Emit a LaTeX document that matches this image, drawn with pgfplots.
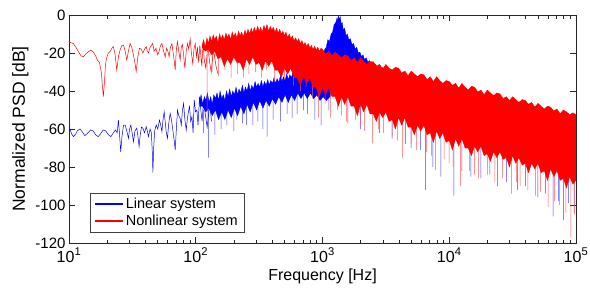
\documentclass[border=0pt]{standalone}
\usepackage{pgfplots}
\pgfplotsset{compat=1.18}
\usepackage{fontspec}
\setmainfont{Liberation Sans}
\definecolor{matblue}{RGB}{0,0,255}
\definecolor{matred}{RGB}{255,0,0}
\begin{document}
\begin{tikzpicture}
\begin{axis}[
  scale only axis, width=507pt, height=228pt,
  xmin=1, xmax=5, ymin=-120, ymax=0,
  xtick={1,2,3,4,5},
  xticklabels={10\textsuperscript{1},10\textsuperscript{2},10\textsuperscript{3},10\textsuperscript{4},10\textsuperscript{5}},
  minor xtick={1.301,1.477,1.602,1.699,1.778,1.845,1.903,1.954,2.301,2.477,2.602,2.699,2.778,2.845,2.903,2.954,3.301,3.477,3.602,3.699,3.778,3.845,3.903,3.954,4.301,4.477,4.602,4.699,4.778,4.845,4.903,4.954},
  ytick={-120,-100,-80,-60,-40,-20,0},
  yticklabels={-120,-100,-80,-60,-40,-20,0},
  tick align=inside,
  major tick length=6pt, minor tick length=3.5pt,
  every tick/.style={black!85, line width=0.6pt},
  axis line style={black!85, line width=0.8pt},
  xticklabel style={font=\fontsize{16}{19}\selectfont, yshift=-1.5pt},
  yticklabel style={font=\fontsize{15}{18}\selectfont},
  xlabel={Frequency [Hz]}, ylabel={Normalized PSD [dB]},
  xlabel style={font=\fontsize{16}{19}\selectfont},
  ylabel style={font=\fontsize{17.5}{20}\selectfont},
  legend style={at={(rel axis cs:0.0414,0.048)}, anchor=south west, draw=black!75, fill=white,
    font=\fontsize{14.5}{17}\selectfont, row sep=1pt, inner xsep=4pt, inner ysep=3pt},
  legend cell align=left,
  legend image code/.code={\draw[mark repeat=2,mark phase=2,#1,line width=1.6pt] plot coordinates {(0pt,0pt) (14pt,0pt) (28pt,0pt)};},
]

% ---------- blue spikes ----------
\addplot[matblue!75, line width=0.5pt, forget plot] coordinates {
(2.060,-50)(2.060,-62)(2.060,-50) (2.101,-50)(2.101,-75)(2.101,-50) (2.150,-49)(2.150,-63)(2.150,-49)
(2.200,-48)(2.200,-60)(2.200,-48) (2.245,-47)(2.245,-58)(2.245,-47) (2.300,-46)(2.300,-61)(2.300,-46)
(2.325,-45)(2.325,-55)(2.325,-45) (2.370,-45)(2.370,-57)(2.370,-45) (2.400,-44)(2.400,-58)(2.400,-44)
(2.450,-43)(2.450,-58)(2.450,-43) (2.490,-43)(2.490,-56)(2.490,-43) (2.530,-42)(2.530,-60)(2.530,-42)
(2.563,-42)(2.563,-64)(2.563,-42) (2.610,-41)(2.610,-55)(2.610,-41) (2.669,-40)(2.669,-56)(2.669,-40)
(2.720,-39)(2.720,-52)(2.720,-39) (2.760,-39)(2.760,-54)(2.760,-39) (2.800,-38)(2.800,-52)(2.800,-38)
(2.850,-38)(2.850,-50)(2.850,-38) (2.880,-37)(2.880,-52)(2.880,-37) (2.940,-36)(2.940,-55)(2.940,-36)
(2.990,-36)(2.990,-58)(2.990,-36) (3.050,-36)(3.050,-50)(3.050,-36) (3.200,-40)(3.200,-57)(3.200,-40)
(3.300,-43)(3.300,-60)(3.300,-43) (3.450,-46)(3.450,-62)(3.450,-46) (3.550,-48)(3.550,-65)(3.550,-48)
(3.656,-50)(3.656,-68)(3.656,-50) (3.700,-51)(3.700,-70)(3.700,-51) (3.775,-53)(3.775,-71)(3.775,-53)
(3.814,-54)(3.814,-92)(3.814,-54) (3.870,-56)(3.870,-80)(3.870,-56) (3.933,-57)(3.933,-85)(3.933,-57)
(4.036,-60)(4.036,-95)(4.036,-60) (4.100,-62)(4.100,-82)(4.100,-62) (4.170,-63)(4.170,-85)(4.170,-63)
(4.250,-65)(4.250,-86)(4.250,-65) (4.320,-66)(4.320,-84)(4.320,-66) (4.380,-67)(4.380,-90)(4.380,-67)
(4.450,-68)(4.450,-88)(4.450,-68) (4.540,-70)(4.540,-92)(4.540,-70) (4.600,-71)(4.600,-90)(4.600,-71)
(4.700,-73)(4.700,-96)(4.700,-73) (4.760,-74)(4.760,-94)(4.760,-74) (4.820,-76)(4.820,-106)(4.820,-76)
(4.860,-77)(4.860,-98)(4.860,-77) (4.900,-78)(4.900,-108)(4.900,-78) (4.940,-79)(4.940,-99)(4.940,-79)
(4.985,-80)(4.985,-104)(4.985,-80)
};

% ---------- blue band (upper edge left to right, lower edge right to left) ----------
\addplot[draw=matblue, fill=matblue, line width=0.35pt, forget plot] coordinates {
(2.030,-46)(2.042,-42)(2.055,-47)(2.068,-43)(2.080,-45)(2.092,-41)(2.105,-46)(2.118,-43)(2.130,-47)(2.142,-42)
(2.155,-44)(2.168,-41)(2.180,-45)(2.192,-40)(2.205,-44)(2.218,-42)(2.230,-45)(2.242,-40)(2.255,-43)(2.268,-39)
(2.280,-43)(2.292,-40)(2.305,-42)(2.318,-38)(2.330,-42)(2.342,-39)(2.355,-41)(2.368,-37)(2.380,-41)(2.392,-38)
(2.405,-40)(2.418,-36)(2.430,-40)(2.442,-37)(2.455,-39)(2.468,-35)(2.480,-38)(2.492,-36)(2.505,-38)(2.518,-34.5)
(2.530,-38)(2.542,-35)(2.555,-37)(2.568,-34)(2.580,-37)(2.592,-34.5)(2.605,-36)(2.618,-33)(2.630,-36)(2.642,-33.5)
(2.655,-35.5)(2.668,-32)(2.680,-35)(2.692,-32.5)(2.705,-34.5)(2.718,-31)(2.730,-34)(2.742,-31.5)(2.755,-33)(2.768,-30)
(2.780,-33)(2.792,-30)(2.805,-32)(2.818,-29)(2.830,-31.5)(2.842,-28.5)(2.855,-31)(2.868,-28)(2.880,-30)(2.892,-27)
(2.905,-29)(2.918,-26)(2.930,-28)(2.942,-25)(2.955,-27)(2.968,-23.5)(2.980,-25)(2.992,-21)(3.005,-22)(3.018,-18)
(3.030,-17)(3.042,-13)(3.055,-14)(3.068,-10)(3.080,-9)(3.092,-5)(3.105,-4)(3.115,-1.5)(3.122,-3)(3.127,0)
(3.132,-2.5)(3.140,-1)(3.148,-5)(3.155,-4)(3.165,-8)(3.175,-7)(3.185,-11)(3.195,-10)(3.208,-13)(3.220,-12.5)
(3.232,-15.5)(3.245,-15)(3.258,-18)(3.270,-17)(3.282,-20)(3.295,-19.5)(3.308,-22)(3.320,-21)(3.332,-23.5)(3.345,-22.5)
(3.358,-25)(3.370,-24)(3.382,-26)(3.395,-25)(3.408,-27)(3.420,-26)(3.432,-28)(3.445,-27)(3.458,-29)(3.470,-27.5)
(3.485,-29.5)(3.500,-28)(3.525,-30)(3.550,-29.5)(3.575,-31)(3.600,-30)(3.650,-33)(3.700,-33)(3.750,-34)(3.800,-35)
(3.900,-36)(4.000,-38)(4.250,-42)(4.500,-46)(4.750,-50)(5.000,-54)
(5.000,-85)(4.750,-79)(4.500,-73)(4.250,-69)(4.040,-64)(3.800,-58)(3.500,-51)(3.250,-45)(3.100,-40)(3.030,-45)
(3.005,-43)(2.980,-45)(2.955,-42)(2.930,-44)(2.905,-41)(2.880,-44)(2.855,-41)(2.830,-44)(2.805,-41)(2.780,-45)
(2.755,-42)(2.730,-46)(2.705,-42)(2.680,-46)(2.655,-43)(2.630,-47)(2.605,-44)(2.580,-48)(2.555,-45)(2.530,-49)
(2.505,-45)(2.480,-50)(2.455,-46)(2.430,-51)(2.405,-47)(2.380,-52)(2.355,-48)(2.330,-53)(2.305,-49)(2.280,-54)
(2.255,-50)(2.230,-55)(2.205,-51)(2.180,-55)(2.155,-50)(2.130,-53)(2.105,-49)(2.080,-51)(2.055,-48)(2.030,-48)
} -- cycle;

% ---------- blue low-frequency line (legend entry) ----------
\addplot[color=matblue, line width=0.5pt] coordinates {
(1.000,-59.5)(1.008,-60)(1.020,-62.5)(1.035,-64)(1.050,-63)(1.065,-61)(1.087,-60)(1.105,-61.5)(1.125,-63.5)(1.150,-62)
(1.170,-60.5)(1.190,-61)(1.210,-63)(1.230,-64)(1.250,-62.5)(1.270,-60.5)(1.290,-61)(1.310,-63)(1.330,-64)(1.350,-62)
(1.368,-60.5)(1.380,-62)(1.390,-55.3)(1.399,-63)(1.408,-72)(1.418,-64)(1.430,-58)(1.443,-57.9)(1.456,-61)(1.469,-64.9)
(1.478,-60)(1.488,-57.9)(1.498,-62)(1.509,-66.7)(1.520,-61)(1.535,-59.6)(1.544,-64)(1.553,-69.3)(1.562,-63)(1.572,-59)
(1.583,-59.6)(1.596,-62)(1.609,-58.8)(1.618,-61)(1.627,-64)(1.640,-60)(1.650,-62)(1.657,-72)(1.662,-83)(1.668,-70)
(1.676,-61)(1.688,-57.9)(1.700,-60)(1.714,-55.3)(1.724,-58)(1.733,-61.4)(1.742,-55)(1.751,-50.9)(1.760,-57)(1.768,-62)
(1.777,-64.9)(1.787,-57)(1.798,-51.8)(1.808,-55)(1.818,-60)(1.830,-66)(1.838,-71)(1.847,-60)(1.856,-50)(1.866,-53)
(1.877,-54.4)(1.886,-58)(1.895,-50)(1.904,-46.5)(1.914,-55)(1.925,-60.5)(1.935,-54)(1.945,-50)(1.951,-48.2)(1.960,-56)
(1.970,-53.5)(1.979,-62)(1.988,-44.7)(1.998,-51)(2.009,-50)(2.018,-58)(2.030,-43)(2.040,-50)(2.050,-56)(2.062,-45)
(2.075,-52)(2.090,-59)(2.110,-47)(2.125,-56)
};
\addlegendentry{Linear system}

% ---------- red spikes ----------
\addplot[matred!65, line width=0.5pt, forget plot] coordinates {
(2.089,-21)(2.089,-55)(2.089,-21) (2.130,-21)(2.130,-30)(2.130,-21) (2.180,-21)(2.180,-32)(2.180,-21)
(2.230,-21)(2.230,-29)(2.230,-21) (2.280,-21)(2.280,-33)(2.280,-21) (2.330,-21)(2.330,-31)(2.330,-21)
(2.376,-21)(2.376,-33)(2.376,-21) (2.420,-21)(2.420,-31)(2.420,-21) (2.470,-21)(2.470,-30)(2.470,-21)
(2.520,-21)(2.520,-33)(2.520,-21) (2.560,-21)(2.560,-29)(2.560,-21) (2.620,-23)(2.620,-35)(2.620,-23)
(2.670,-24)(2.670,-32)(2.670,-24) (2.700,-25)(2.700,-34)(2.700,-25) (2.770,-27)(2.770,-37)(2.770,-27)
(2.826,-29)(2.826,-40)(2.826,-29) (2.870,-30)(2.870,-38)(2.870,-30) (2.920,-32)(2.920,-44)(2.920,-32)
(2.970,-34)(2.970,-54)(2.970,-34) (3.020,-36)(3.020,-47)(3.020,-36) (3.063,-37)(3.063,-54)(3.063,-37)
(3.120,-39)(3.120,-50)(3.120,-39) (3.150,-40)(3.150,-53)(3.150,-40) (3.190,-41)(3.190,-56)(3.190,-41)
(3.260,-43)(3.260,-55)(3.260,-43) (3.300,-44)(3.300,-58)(3.300,-44) (3.330,-45)(3.330,-61)(3.330,-45)
(3.395,-46)(3.395,-67.5)(3.395,-46) (3.440,-47)(3.440,-60)(3.440,-47) (3.480,-48)(3.480,-62)(3.480,-48)
(3.550,-50)(3.550,-64)(3.550,-50) (3.590,-51)(3.590,-66)(3.590,-51) (3.630,-52)(3.630,-75)(3.630,-52)
(3.700,-54)(3.700,-68)(3.700,-54) (3.740,-55)(3.740,-71)(3.740,-55) (3.820,-57)(3.820,-72)(3.820,-57)
(3.860,-58)(3.860,-74)(3.860,-58) (3.890,-58)(3.890,-81.5)(3.890,-58) (3.960,-60)(3.960,-76)(3.960,-60)
(4.000,-61)(4.000,-78)(4.000,-61) (4.030,-62)(4.030,-80)(4.030,-62) (4.090,-63)(4.090,-90)(4.090,-63)
(4.160,-65)(4.160,-82)(4.160,-65) (4.200,-66)(4.200,-84)(4.200,-66) (4.230,-67)(4.230,-86)(4.230,-67)
(4.300,-68)(4.300,-84)(4.300,-68) (4.360,-69)(4.360,-88)(4.360,-69) (4.420,-70)(4.420,-86)(4.420,-70)
(4.490,-71)(4.490,-94)(4.490,-71) (4.530,-72)(4.530,-88)(4.530,-72) (4.560,-72)(4.560,-90)(4.560,-72)
(4.620,-74)(4.620,-92)(4.620,-74) (4.680,-76)(4.680,-95)(4.680,-76) (4.720,-76)(4.720,-93)(4.720,-76)
(4.780,-78)(4.780,-101)(4.780,-78) (4.830,-79)(4.830,-98)(4.830,-79) (4.870,-80)(4.870,-100)(4.870,-80)
(4.920,-81)(4.920,-104)(4.920,-81) (4.960,-82)(4.960,-117)(4.960,-82) (4.990,-83)(4.990,-105)(4.990,-83)
};

% ---------- red band (upper edge left to right, lower edge right to left) ----------
\addplot[draw=matred, fill=matred, line width=0.35pt, forget plot] coordinates {
(2.050,-16)(2.062,-13)(2.075,-17)(2.088,-12)(2.100,-15)(2.112,-11)(2.125,-14)(2.138,-10.5)(2.150,-13)(2.162,-11)
(2.175,-14.5)(2.188,-10)(2.200,-12.5)(2.212,-10.5)(2.225,-13)(2.238,-9.5)(2.250,-12)(2.262,-10)(2.275,-13)(2.288,-9)
(2.300,-11.5)(2.312,-9.5)(2.325,-12)(2.338,-8.5)(2.350,-11)(2.362,-9)(2.375,-11.5)(2.388,-8)(2.400,-10.5)(2.412,-7.5)
(2.425,-10)(2.438,-7)(2.450,-9.5)(2.462,-6.5)(2.475,-9)(2.488,-6)(2.500,-8.5)(2.512,-6.5)(2.525,-9)(2.538,-5.5)
(2.550,-8)(2.562,-5)(2.575,-8.5)(2.588,-6)(2.600,-8)(2.612,-6.5)(2.625,-9)(2.638,-7)(2.650,-9.5)(2.662,-7.5)
(2.675,-10)(2.688,-8.5)(2.700,-11)(2.712,-9)(2.725,-12)(2.738,-10)(2.750,-12.5)(2.762,-11)(2.775,-13.5)(2.788,-12)
(2.800,-14)(2.812,-12.5)(2.825,-15)(2.838,-13.5)(2.850,-16)(2.862,-14.5)(2.875,-16.5)(2.888,-15)(2.900,-17.5)(2.912,-16)
(2.925,-18)(2.938,-16.5)(2.950,-18.5)(2.962,-17)(2.975,-19)(2.988,-17.5)
(3.000,-18)(3.025,-20.5)(3.050,-19)(3.075,-21.5)(3.100,-19.5)(3.125,-21)(3.150,-22.5)(3.175,-21)(3.200,-21.5)(3.225,-24)
(3.250,-22.5)(3.275,-25)(3.300,-22.5)(3.325,-24.5)(3.350,-26)(3.375,-24.5)(3.400,-24.5)(3.425,-27)(3.450,-26)(3.475,-28.5)
(3.500,-26)(3.525,-28)(3.550,-29)(3.575,-27.5)(3.600,-28)(3.625,-30.5)(3.650,-29.5)(3.675,-32)(3.700,-29.5)(3.725,-31)
(3.750,-32.5)(3.775,-31)(3.800,-31.5)(3.825,-34)(3.850,-32.5)(3.875,-35)(3.900,-32.5)(3.925,-34.5)(3.950,-36)(3.975,-34.5)
(4.000,-35)(4.025,-37)(4.050,-36)(4.075,-38.5)(4.100,-36)(4.125,-38)(4.150,-39.5)(4.175,-37.5)(4.200,-38)(4.225,-40.5)
(4.250,-39.5)(4.275,-42)(4.300,-39.5)(4.325,-41)(4.350,-42.5)(4.375,-41)(4.400,-41.5)(4.425,-44)(4.450,-43)(4.475,-45)
(4.500,-43)(4.525,-44.5)(4.550,-46)(4.575,-44.5)(4.600,-45)(4.625,-47)(4.650,-46)(4.675,-48.5)(4.700,-46.5)(4.725,-48)
(4.750,-49.5)(4.775,-48)(4.800,-48.5)(4.825,-50.5)(4.850,-49.5)(4.875,-52)(4.900,-50)(4.925,-51)(4.950,-52.5)(4.975,-51.5)
(5.000,-52.5)
(5.000,-87)(4.975,-89)(4.950,-85)(4.925,-91)(4.900,-86)(4.875,-87)(4.850,-82)(4.825,-85)(4.800,-81)(4.775,-87)
(4.750,-82)(4.725,-83)(4.700,-78)(4.675,-81)(4.650,-78)(4.625,-83)(4.600,-78)(4.575,-79)(4.550,-75)(4.525,-78)
(4.500,-74)(4.475,-80)(4.450,-75)(4.425,-76)(4.400,-72)(4.375,-75)(4.350,-72)(4.325,-77)(4.300,-73)(4.275,-74)
(4.250,-69)(4.225,-72)(4.200,-69)(4.175,-74)(4.150,-70)(4.125,-70)(4.100,-65)(4.075,-69)(4.050,-65)(4.025,-71)
(4.000,-66)(3.975,-67)(3.950,-62)(3.925,-65)(3.900,-61)(3.875,-67)(3.850,-62)(3.825,-63)(3.800,-58)(3.775,-61)
(3.750,-58)(3.725,-63)(3.700,-59)(3.675,-59)(3.650,-54)(3.625,-58)(3.600,-54)(3.575,-60)(3.550,-55)(3.525,-56)
(3.500,-51)(3.475,-54)(3.450,-51)(3.425,-56)(3.400,-52)(3.375,-52)(3.350,-47)(3.325,-51)(3.300,-47)(3.275,-53)
(3.250,-48)(3.225,-48)(3.200,-43)(3.175,-47)(3.150,-43)(3.125,-48)(3.100,-43)(3.075,-43)(3.050,-38)(3.025,-42)
(3.000,-38)(2.975,-43)(2.950,-38)(2.925,-38)(2.900,-33)(2.875,-36)(2.850,-32)(2.825,-37)(2.800,-33)(2.775,-33)
(2.750,-28)(2.725,-31)(2.700,-28)(2.675,-33)(2.650,-29)(2.625,-29)(2.600,-24)(2.575,-27)(2.550,-24)(2.525,-29)
(2.500,-25)(2.475,-26)(2.450,-22)(2.425,-26)(2.400,-23)(2.375,-29)(2.350,-25)(2.325,-25)(2.300,-22)(2.275,-26)
(2.250,-23)(2.225,-27)(2.200,-22)(2.175,-23)(2.150,-19)(2.125,-21)(2.100,-18)(2.075,-19)(2.050,-17)
} -- cycle;

% ---------- red low-frequency line (legend entry) ----------
\addplot[color=matred, line width=0.5pt] coordinates {
(1.000,-14)(1.010,-14.5)(1.034,-15)(1.055,-17)(1.074,-19.3)(1.095,-21.5)(1.113,-22)(1.133,-20.5)(1.153,-19.3)(1.172,-18.5)
(1.192,-19.5)(1.210,-21.5)(1.224,-23.7)(1.240,-25)(1.255,-30)(1.263,-37)(1.271,-43)(1.279,-36)(1.287,-27)(1.295,-23)
(1.310,-20)(1.324,-19.3)(1.338,-17.5)(1.350,-16.7)(1.362,-20)(1.377,-29)(1.390,-22)(1.403,-18.4)(1.418,-16)(1.430,-15.8)
(1.443,-19)(1.456,-23.7)(1.469,-19)(1.482,-15)(1.495,-17)(1.508,-21)(1.520,-25)(1.530,-29.8)(1.543,-22)(1.556,-17.5)
(1.570,-18)(1.583,-20)(1.596,-18)(1.609,-16.7)(1.618,-19)(1.627,-20)(1.640,-17)(1.660,-15)(1.672,-19)(1.686,-17.5)
(1.700,-21)(1.710,-19.3)(1.722,-16)(1.733,-15)(1.746,-19)(1.759,-22)(1.770,-17.5)(1.780,-19)(1.790,-22)(1.800,-17)
(1.812,-15)(1.822,-20)(1.830,-24)(1.838,-29)(1.847,-18)(1.856,-14)(1.866,-19)(1.877,-23.7)(1.886,-17)(1.895,-15.5)
(1.904,-21)(1.914,-28)(1.925,-19)(1.935,-15)(1.945,-18)(1.956,-12.6)(1.966,-20)(1.976,-25.4)(1.986,-18)(1.996,-15)
(2.005,-22)(2.014,-17)(2.023,-25)(2.032,-16)(2.040,-21)(2.048,-27)(2.058,-15)(2.068,-24)(2.080,-28)(2.095,-16)
(2.110,-25)(2.122,-30)(2.140,-18)(2.160,-27)(2.175,-31)
};
\addlegendentry{Nonlinear system}
\end{axis}
\pgfresetboundingbox
\path[use as bounding box] (-69pt,-52pt) rectangle (521pt,243pt);
\end{tikzpicture}
\end{document}
